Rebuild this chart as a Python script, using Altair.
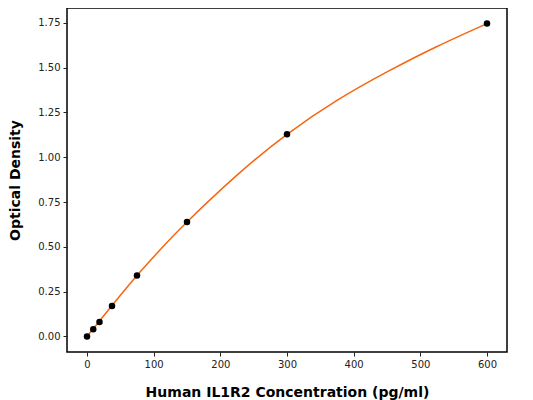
# ELISA standard curve - Human IL1R2

import pandas as pd
import altair as alt


# Standards (measured points)
conc = [0, 9.375, 18.75, 37.5, 75, 150, 300, 600]
od = [0.0, 0.04, 0.08, 0.17, 0.34, 0.639, 1.128, 1.746]

# Fitted curve
curve_conc = [0, 37.5, 75, 112.5, 150, 225, 300, 375, 450, 525, 600]
curve_od = [0.0, 0.172, 0.34, 0.495, 0.639, 0.9, 1.128, 1.317, 1.476, 1.618, 1.746]

x_ticks = [0, 100, 200, 300, 400, 500, 600]
y_ticks = [0, 0.25, 0.5, 0.75, 1.0, 1.25, 1.5, 1.75]

points_df = pd.DataFrame({"conc": conc, "od": od})
curve_df = pd.DataFrame({"conc": curve_conc, "od": curve_od})

font = "DejaVu Sans"

x_enc = alt.X(
    "conc:Q",
    title = "Human IL1R2 Concentration (pg/ml)",
    scale = alt.Scale(domain = [-30, 630], nice = False, zero = False),
    axis = alt.Axis(values = x_ticks, format = "d", titlePadding = 16),
)
y_enc = alt.Y(
    "od:Q",
    title = "Optical Density",
    scale = alt.Scale(domain = [-0.087, 1.833], nice = False, zero = False),
    axis = alt.Axis(values = y_ticks, format = ".2f", titlePadding = 15),
)

# Orange fitted line
curve = (
    alt.Chart(curve_df)
    .mark_line(color = "#f7660e", strokeWidth = 1.5, interpolate = "natural")
    .encode(x = x_enc, y = y_enc)
)

# Black standard points
points = (
    alt.Chart(points_df)
    .mark_circle(color = "black", opacity = 1, size = 42)
    .encode(x = "conc:Q", y = "od:Q")
)

chart = (
    alt.layer(curve, points)
    .properties(
        width = 440,
        height = 344,
        autosize = alt.AutoSizeParams(type = "none"),
        padding = {"left": 59, "top": 0, "right": 18, "bottom": 48},
    )
    .configure_view(stroke = "black", strokeWidth = 1.5)
    .configure_axis(
        grid = False,
        domain = False,
        tickColor = "#222222",
        tickSize = 4,
        tickWidth = 1,
        labelFont = font,
        labelFontSize = 10,
        labelColor = "#222222",
        labelPadding = 3,
        titleFont = font,
        titleFontSize = 14,
        titleFontWeight = "bold",
        titleColor = "black",
    )
)

chart.save("out.html", embed_options = {"renderer": "svg", "actions": False})
